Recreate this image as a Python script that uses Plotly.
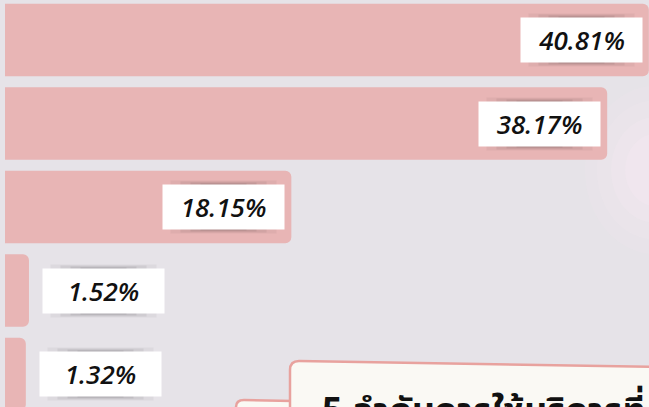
import plotly.graph_objects as go

# ---- data ----
categories = ["อันดับ 1", "อันดับ 2", "อันดับ 3", "อันดับ 4", "อันดับ 5"]
values = [40.81, 38.17, 18.15, 1.52, 1.32]
labels = ["40.81%", "38.17%", "18.15%", "1.52%", "1.32%"]
callout_title = "5 ลำดับการใช้บริการที่"

W, H = 649, 407
ML = 5
PW = W - ML

BG = "#E6E3E8"
BAR = "#E8B5B5"

def px(x):
    return (x - ML) / PW

def py(y):
    return 1 - y / H

ypos = list(range(len(values)))

fig = go.Figure()
fig.add_trace(go.Bar(
    x=values, y=ypos, orientation="h",
    marker=dict(color=BAR, line=dict(width=0)),
    width=0.87, hoverinfo="skip", showlegend=False,
))

annotations = []
BW, BH, BP = 109, 32, 6
for i, (v, lab) in enumerate(zip(values, labels)):
    inside = v > 5
    anchor = "right" if inside else "left"
    base = -6 if inside else 13
    sign = -1 if inside else 1
    # soft shadows (top & bottom)
    for dw, dh, col in [(16, 8, "rgba(40,40,40,0.05)"), (36, 6, "rgba(40,40,40,0.07)"),
                        (56, 4, "rgba(40,40,40,0.09)"), (76, 2, "rgba(40,40,40,0.10)")]:
        annotations.append(dict(
            x=v, y=i, xref="x", yref="y", text=" ", showarrow=False,
            xanchor=anchor, yanchor="middle", xshift=base + sign * dw / 2,
            width=BW - dw, height=BH + dh, borderpad=BP, bgcolor=col,
        ))
    annotations.append(dict(
        x=v, y=i, xref="x", yref="y", text=lab, showarrow=False,
        xanchor=anchor, yanchor="middle", xshift=base, align="center",
        width=BW, height=BH, borderpad=BP, bgcolor="#FFFFFF",
        font=dict(family="'Open Sans', Lato, sans-serif", size=26,
                  color="#111111", weight=600, style="italic"),
    ))

annotations.append(dict(
    x=px(320), y=py(383), xref="paper", yref="paper", text=callout_title,
    showarrow=False, xanchor="left", yanchor="top",
    font=dict(family="'Noto Sans', 'Noto Sans Thai', sans-serif", size=36,
              color="#111111", weight="bold"),
))

shapes = []
# blurred light blob on right
for r, a in [(70, 0.10), (58, 0.12), (44, 0.14), (30, 0.16)]:
    cx, cy = 655, 170
    shapes.append(dict(type="circle", xref="paper", yref="paper", layer="below",
                       x0=px(cx - r), x1=px(cx + r), y0=py(cy + r * 1.2), y1=py(cy - r * 1.2),
                       fillcolor=f"rgba(252,238,246,{a})", line=dict(width=0)))

# tab behind callout
tab = (f"M {px(236)},{py(420)} L {px(236)},{py(407)} "
       f"Q {px(236)},{py(400)} {px(244)},{py(400)} "
       f"L {px(292)},{py(401)} L {px(292)},{py(420)} Z")
shapes.append(dict(type="path", xref="paper", yref="paper", path=tab,
                   fillcolor="#FAF9F4", line=dict(color="#E8A29E", width=2.5), layer="above"))
main = (f"M {px(290)},{py(420)} L {px(290)},{py(370)} "
        f"Q {px(290)},{py(361)} {px(299)},{py(361)} "
        f"L {px(660)},{py(367)} L {px(660)},{py(420)} Z")
shapes.append(dict(type="path", xref="paper", yref="paper", path=main,
                   fillcolor="#FAF9F4", line=dict(color="#E8A29E", width=2.5), layer="above"))

fig.update_layout(
    width=W, height=H,
    margin=dict(l=ML, r=0, t=0, b=0, pad=0),
    paper_bgcolor=BG, plot_bgcolor=BG,
    barcornerradius=6,
    xaxis=dict(range=[0, 40.82], visible=False, fixedrange=True),
    yaxis=dict(range=[4.395, -0.479], visible=False, fixedrange=True),
    annotations=annotations,
    shapes=shapes,
)

fig.write_html("out.html", config={"staticPlot": True},
               post_script="document.body.style.margin='0';document.body.style.overflow='hidden';")
